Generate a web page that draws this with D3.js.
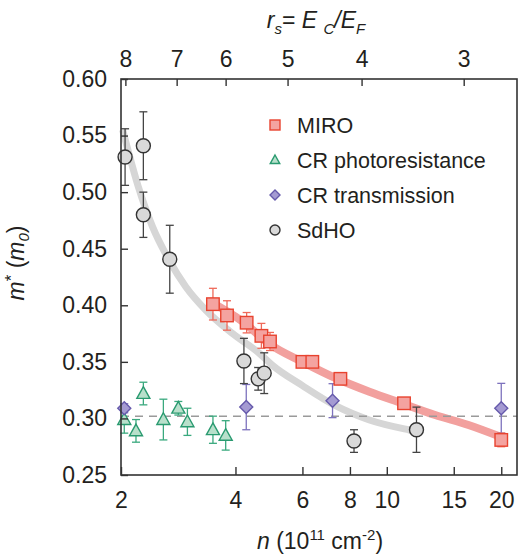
<!DOCTYPE html>
<html>
<head>
<meta charset="utf-8">
<script src="https://cdn.jsdelivr.net/npm/d3@7"></script>
<style>
  body { margin: 0; background: #fff; }
  text { font-family: "Liberation Sans", Arial, Helvetica, sans-serif; fill: #231f20; }
</style>
</head>
<body>
<div id="chart"></div>
<script>
// MIRO
const miroN = [3.49, 3.8, 4.28, 4.68, 4.93, 6.0, 6.37, 7.55, 11.1, 20.0];
const miroM = [0.401, 0.391, 0.3846, 0.373, 0.368, 0.35, 0.35, 0.335, 0.3134, 0.281];
const miroErr = [0.014, 0.013, 0.009, 0.011, 0.008, 0.004, 0.004, 0.004, 0.004, 0.006];

// CR photoresistance
const crpN = [2.04, 2.19, 2.29, 2.585, 2.83, 2.99, 3.49, 3.77];
const crpM = [0.299, 0.289, 0.322, 0.299, 0.309, 0.297, 0.29, 0.285];
const crpErr = [0.012, 0.01, 0.01, 0.018, 0.006, 0.012, 0.012, 0.013];

// CR transmission
const crtN = [2.04, 4.27, 7.2, 20.0];
const crtM = [0.309, 0.31, 0.3157, 0.309];
const crtErr = [0.004, 0.02, 0.015, 0.022];

// SdHO
const sdhoN = [2.05, 2.29, 2.29, 2.687, 4.21, 4.59, 4.76, 8.2, 11.97];
const sdhoM = [0.531, 0.541, 0.48, 0.4407, 0.3508, 0.335, 0.34, 0.28, 0.29];
const sdhoErr = [0.025, 0.03, 0.02, 0.03, 0.02, 0.01, 0.018, 0.01, 0.02];

// fit curves
const miroFitN = [3.4, 4.2, 4.9, 6.0, 7.35, 9.0, 10.95, 13.4, 16.4, 20.0];
const miroFitM = [0.404, 0.385, 0.366, 0.35, 0.3355, 0.3236, 0.3134, 0.303, 0.2942, 0.2835];
const sdhoFitN = [2.02, 2.22, 2.42, 2.675, 2.96, 3.34, 3.93, 4.62, 5.0, 6.0, 7.35, 9.0, 11.45, 11.95];
const sdhoFitM = [0.555, 0.505, 0.4695, 0.44, 0.4164, 0.3958, 0.375, 0.3576, 0.347, 0.329, 0.311, 0.2986, 0.2898, 0.2885];

const bandMass = 0.302;

// axes ticks
const nTicks = [2, 4, 6, 8, 10, 15, 20];
const mTicks = [0.25, 0.3, 0.35, 0.4, 0.45, 0.5, 0.55, 0.6];
const rsLabels = [8, 7, 6, 5, 4, 3];
const rsTickN = [2.06, 2.81, 3.78, 5.5, 8.61, 15.98];

const W = 518, H = 554;
const margin = { top: 79, right: 1, bottom: 79, left: 121 };

const colors = {
  miro: { fill: "#f4a3a0", stroke: "#e8432f", err: "#ef6a5a" },
  crp: { fill: "#b8e0cb", stroke: "#2a9a70", err: "#3aa97e" },
  crt: { fill: "#a49ad2", stroke: "#6559ab", err: "#7d72bd" },
  sdho: { fill: "#d9d9d9", stroke: "#333333", err: "#444444" },
};

function zip(ns, ms, es) {
  return ns.map((n, i) => ({ n: n, m: ms[i], e: es ? es[i] : 0 }));
}

const svg = d3.select("#chart").append("svg").attr("width", W).attr("height", H);

const x = d3.scaleLog().domain([2, 22]).range([margin.left, W - margin.right]);
const y = d3.scaleLinear().domain([0.25, 0.6]).range([H - margin.bottom, margin.top]);

// fit curves
const line = d3.line().x((d) => x(d.n)).y((d) => y(d.m)).curve(d3.curveMonotoneX);

svg.append("path")
  .datum(zip(sdhoFitN, sdhoFitM))
  .attr("fill", "none")
  .attr("stroke", "#d6d6d6")
  .attr("stroke-width", 7)
  .attr("d", line);

svg.append("path")
  .datum(zip(miroFitN, miroFitM))
  .attr("fill", "none")
  .attr("stroke", "#f2a09e")
  .attr("stroke-width", 8)
  .attr("d", line);

svg.append("line")
  .attr("x1", x(2)).attr("x2", x(22))
  .attr("y1", y(bandMass)).attr("y2", y(bandMass))
  .attr("stroke", "#9a9a9a")
  .attr("stroke-width", 1.5)
  .attr("stroke-dasharray", "8,6");

// error bars
function errorBars(data, color) {
  const g = svg.append("g").attr("stroke", color).attr("stroke-width", 1.3).attr("fill", "none");
  data.forEach((d) => {
    const cx = x(d.n);
    g.append("line").attr("x1", cx).attr("x2", cx).attr("y1", y(d.m - d.e)).attr("y2", y(d.m + d.e));
    [d.m - d.e, d.m + d.e].forEach((v) => {
      g.append("line").attr("x1", cx - 4).attr("x2", cx + 4).attr("y1", y(v)).attr("y2", y(v));
    });
  });
}

const miro = zip(miroN, miroM, miroErr);
const crp = zip(crpN, crpM, crpErr);
const crt = zip(crtN, crtM, crtErr);
const sdho = zip(sdhoN, sdhoM, sdhoErr);

errorBars(crp, colors.crp.err);
errorBars(crt, colors.crt.err);
errorBars(sdho, colors.sdho.err);
errorBars(miro, colors.miro.err);

// markers
function marker(g, type, size, c) {
  if (type === "square") {
    g.append("rect").attr("x", -size / 2).attr("y", -size / 2).attr("width", size).attr("height", size);
  } else if (type === "triangle") {
    const s = size / 2;
    g.append("path").attr("d", `M0,${-s * 1.05}L${s},${s * 0.75}L${-s},${s * 0.75}Z`);
  } else if (type === "diamond") {
    const s = size / 2;
    g.append("path").attr("d", `M0,${-s}L${s},0L0,${s}L${-s},0Z`);
  } else {
    g.append("circle").attr("r", size / 2);
  }
  g.attr("fill", c.fill).attr("stroke", c.stroke).attr("stroke-width", 1.4);
}

function drawPoints(data, type, size, c) {
  data.forEach((d) => {
    const g = svg.append("g").attr("transform", `translate(${x(d.n)},${y(d.m)})`);
    marker(g, type, size, c);
  });
}

drawPoints(crp, "triangle", 13, colors.crp);
drawPoints(crt, "diamond", 13, colors.crt);
drawPoints(sdho, "circle", 14, colors.sdho);
drawPoints(miro, "square", 12.5, colors.miro);

// frame
svg.append("rect")
  .attr("x", x(2)).attr("y", y(0.6))
  .attr("width", x(22) - x(2)).attr("height", y(0.25) - y(0.6))
  .attr("fill", "none").attr("stroke", "#333").attr("stroke-width", 1.6);

// bottom axis
const xAxis = d3.axisBottom(x).tickValues(nTicks).tickFormat(d3.format("d")).tickSizeInner(-8).tickSizeOuter(0).tickPadding(17);
const gx = svg.append("g").attr("transform", `translate(0,${y(0.25)})`).call(xAxis);
gx.select(".domain").remove();
gx.selectAll("line").attr("stroke", "#333").attr("stroke-width", 1.4);
gx.selectAll("text").attr("font-size", 23).attr("fill", "#231f20");

// left axis
const yAxis = d3.axisLeft(y).tickValues(mTicks).tickFormat(d3.format(".2f")).tickSizeInner(-7).tickSizeOuter(0).tickPadding(14);
const gy = svg.append("g").attr("transform", `translate(${x(2)},0)`).call(yAxis);
gy.select(".domain").remove();
gy.selectAll("line").attr("stroke", "#333").attr("stroke-width", 1.4);
gy.selectAll("text").attr("font-size", 23).attr("fill", "#231f20");

// top axis (r_s)
const gt = svg.append("g").attr("transform", `translate(0,${y(0.6)})`);
rsTickN.forEach((n, i) => {
  gt.append("line").attr("x1", x(n)).attr("x2", x(n)).attr("y1", 0).attr("y2", 7)
    .attr("stroke", "#333").attr("stroke-width", 1.4);
  gt.append("text").attr("x", x(n)).attr("y", -12).attr("text-anchor", "middle")
    .attr("font-size", 23).text(rsLabels[i]);
});

// axis titles
const xt = svg.append("text").attr("x", 320).attr("y", 549).attr("text-anchor", "middle").attr("font-size", 23);
xt.append("tspan").attr("font-style", "italic").text("n");
xt.append("tspan").text(" (10");
xt.append("tspan").attr("font-size", 15).attr("dy", -9).text("11");
xt.append("tspan").attr("dy", 9).text(" cm");
xt.append("tspan").attr("font-size", 15).attr("dy", -9).text("-2");
xt.append("tspan").attr("dy", 9).text(")");

const yt = svg.append("text").attr("transform", "translate(24,263) rotate(-90)").attr("text-anchor", "middle").attr("font-size", 23);
yt.append("tspan").attr("font-style", "italic").text("m");
yt.append("tspan").attr("font-size", 17).attr("dy", -7).text("*");
yt.append("tspan").attr("dy", 7).text(" (");
yt.append("tspan").attr("font-style", "italic").text("m");
yt.append("tspan").attr("font-style", "italic").attr("font-size", 15).attr("dy", 5).text("0");
yt.append("tspan").attr("dy", -5).text(")");

const tt = svg.append("text").attr("x", 316).attr("y", 28).attr("text-anchor", "middle").attr("font-size", 23).attr("font-style", "italic");
tt.append("tspan").text("r");
tt.append("tspan").attr("font-size", 15).attr("dy", 6).text("s");
tt.append("tspan").attr("dy", -6).attr("font-style", "normal").text("= ");
tt.append("tspan").text("E ");
tt.append("tspan").attr("font-size", 15).attr("dy", 6).text("C");
tt.append("tspan").attr("dy", -6).text("/E");
tt.append("tspan").attr("font-size", 15).attr("dy", 6).text("F");

// legend
const legendItems = ["MIRO", "CR photoresistance", "CR transmission", "SdHO"];
const legendTypes = ["square", "triangle", "diamond", "circle"];
const legendKeys = ["miro", "crp", "crt", "sdho"];
const legendY = [125, 160, 195, 230];
const legendSize = [10, 9.5, 10, 10];

legendItems.forEach((label, i) => {
  const g = svg.append("g").attr("transform", `translate(275,${legendY[i]})`);
  marker(g, legendTypes[i], legendSize[i], colors[legendKeys[i]]);
  svg.append("text").attr("x", 297).attr("y", legendY[i] + 8).attr("font-size", 21.5).text(label);
});
</script>
</body>
</html>
